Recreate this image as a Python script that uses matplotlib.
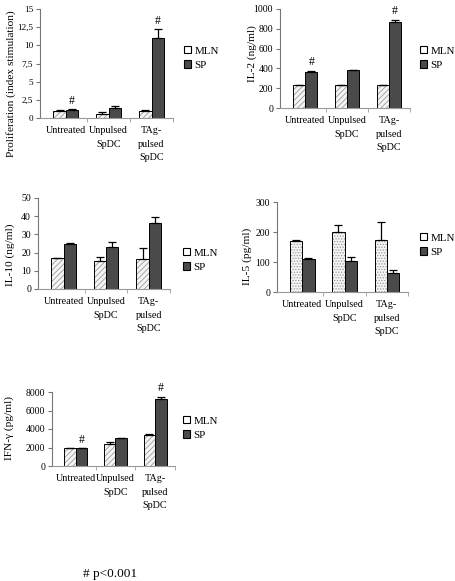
import matplotlib
matplotlib.use("Agg")
import matplotlib.pyplot as plt
from matplotlib.patches import Patch
import numpy as np

plt.rcParams['font.family'] = ['Liberation Serif', 'DejaVu Serif']
plt.rcParams['hatch.linewidth'] = 0.6

categories = ["Untreated", "Unpulsed\nSpDC", "TAg-\npulsed\nSpDC"]
series = ["MLN", "SP"]

prolif_mln = [1.0, 0.6, 1.0]
prolif_mln_err = [0.05, 0.2, 0.05]
prolif_sp = [1.1, 1.35, 11.0]
prolif_sp_err = [0.1, 0.35, 1.2]

il2_mln = [230, 230, 230]
il2_mln_err = [0, 0, 5]
il2_sp = [360, 380, 870]
il2_sp_err = [10, 5, 20]

il10_mln = [17, 15.3, 16.5]
il10_mln_err = [0, 2.2, 6]
il10_sp = [24.5, 23, 36.5]
il10_sp_err = [0.5, 3, 3]

il5_mln = [170, 200, 175]
il5_mln_err = [3, 25, 58]
il5_sp = [110, 103, 65]
il5_sp_err = [3, 15, 8]

ifng_mln = [2000, 2350, 3350]
ifng_mln_err = [0, 200, 100]
ifng_sp = [1900, 3000, 7200]
ifng_sp_err = [0, 0, 300]

W, H = 456, 581
fig = plt.figure(figsize=(W/100, H/100), dpi=100)

def fx(px): return px / W
def fy(py): return 1 - py / H

XT = 7.3
YT = 7.0
YL = 8.2
LG = 7.9
MLN_FACE = "#f4f4f4"
SP_FACE = "#4a4a4a"

def panel(l, r, b, t, mln, mln_err, sp, sp_err, ylim, yticks, yticklabels, ylabel,
          label_px, hatch="//////", sig=(), sig_off=0.0, leg=(0, 0), ytfs=YT):
    ax = fig.add_axes([fx(l), fy(b), fx(r - l), fy(t) - fy(b)])
    x = np.arange(len(categories))
    w = 0.29
    ax.bar(x - w/2, mln, w, facecolor=MLN_FACE, edgecolor="#9a9a9a", linewidth=0,
           hatch=hatch)
    ax.bar(x - w/2, mln, w, facecolor="none", edgecolor="black", linewidth=0.7,
           yerr=[np.zeros(3), mln_err], capsize=3,
           error_kw=dict(elinewidth=0.9, capthick=0.9, ecolor="black"))
    ax.bar(x + w/2, sp, w, facecolor=SP_FACE, edgecolor="black", linewidth=0.7,
           yerr=[np.zeros(3), sp_err], capsize=3,
           error_kw=dict(elinewidth=0.9, capthick=0.9, ecolor="black"))
    for i in sig:
        ax.text(x[i] + w/2, sp[i] + sp_err[i] + sig_off, "#", ha="center", va="bottom",
                fontsize=8.5, clip_on=False)
    ax.set_xlim(-0.6, 2.5)
    ax.set_ylim(*ylim)
    ax.set_yticks(yticks)
    ax.set_yticklabels(yticklabels, fontsize=ytfs)
    ax.set_xticks(x)
    ax.set_xticklabels(categories, fontsize=XT, linespacing=1.6, va="top")
    ax.set_xticks([0.5, 1.5, 2.5], minor=True)
    ax.tick_params(axis="x", which="major", length=0, pad=6)
    ax.tick_params(axis="x", which="minor", length=3, color="#999999", direction="out")
    ax.tick_params(axis="y", length=3, color="#777777", direction="out", pad=2)
    for s in ("top", "right"):
        ax.spines[s].set_visible(False)
    ax.spines["left"].set_color("#777777")
    ax.spines["bottom"].set_color("#999999")
    ax.spines["left"].set_linewidth(0.8)
    ax.spines["bottom"].set_linewidth(0.8)
    ax.set_ylabel(ylabel, fontsize=YL)
    lx, ly = label_px
    ax.yaxis.set_label_coords((lx + 5 - l) / (r - l), (b - ly) / (b - t))
    handles = [Patch(facecolor="white", edgecolor="black", linewidth=0.8),
               Patch(facecolor=SP_FACE, edgecolor="black", linewidth=0.8)]
    fig.legend(handles, series, loc="upper left", bbox_to_anchor=(fx(leg[0]), fy(leg[1])),
               frameon=False, fontsize=LG, handlelength=0.65, handleheight=0.65,
               handletextpad=0.3, labelspacing=0.45, borderpad=0, borderaxespad=0)
    return ax

panel(40, 173, 118, 9, prolif_mln, prolif_mln_err, prolif_sp, prolif_sp_err,
      (0, 15), [0, 2.5, 5, 7.5, 10, 12.5, 15],
      ["0", "2,5", "5", "7,5", "10", "12,5", "15"],
      "Proliferation (index stimulation)", (11, 84),
      sig=(0, 2), sig_off=0.3, leg=(184, 46), ytfs=6.6)

panel(280, 410, 108, 9, il2_mln, il2_mln_err, il2_sp, il2_sp_err,
      (0, 1000), [0, 200, 400, 600, 800, 1000],
      ["0", "200", "400", "600", "800", "1000"],
      "IL-2 (ng/ml)", (252, 54), sig=(0, 2), sig_off=30, leg=(420, 46))

panel(38, 170, 289, 198, il10_mln, il10_mln_err, il10_sp, il10_sp_err,
      (0, 50), [0, 10, 20, 30, 40, 50],
      ["0", "10", "20", "30", "40", "50"],
      "IL-10 (ng/ml)", (10, 255), leg=(183, 248))

panel(277, 408, 292, 202, il5_mln, il5_mln_err, il5_sp, il5_sp_err,
      (0, 300), [0, 100, 200, 300], ["0", "100", "200", "300"],
      "IL-5 (pg/ml)", (247, 256), hatch="......", leg=(420, 233))

panel(52, 175, 466, 392, ifng_mln, ifng_mln_err, ifng_sp, ifng_sp_err,
      (0, 8000), [0, 2000, 4000, 6000, 8000], ["0", "2000", "4000", "6000", "8000"],
      "IFN-γ (pg/ml)", (9, 428), sig=(0, 2), sig_off=250, leg=(183, 416))

fig.text(fx(110), fy(577), "# p<0.001", ha="center", va="baseline", fontsize=9.5)

fig.savefig("out.png", dpi=100)
